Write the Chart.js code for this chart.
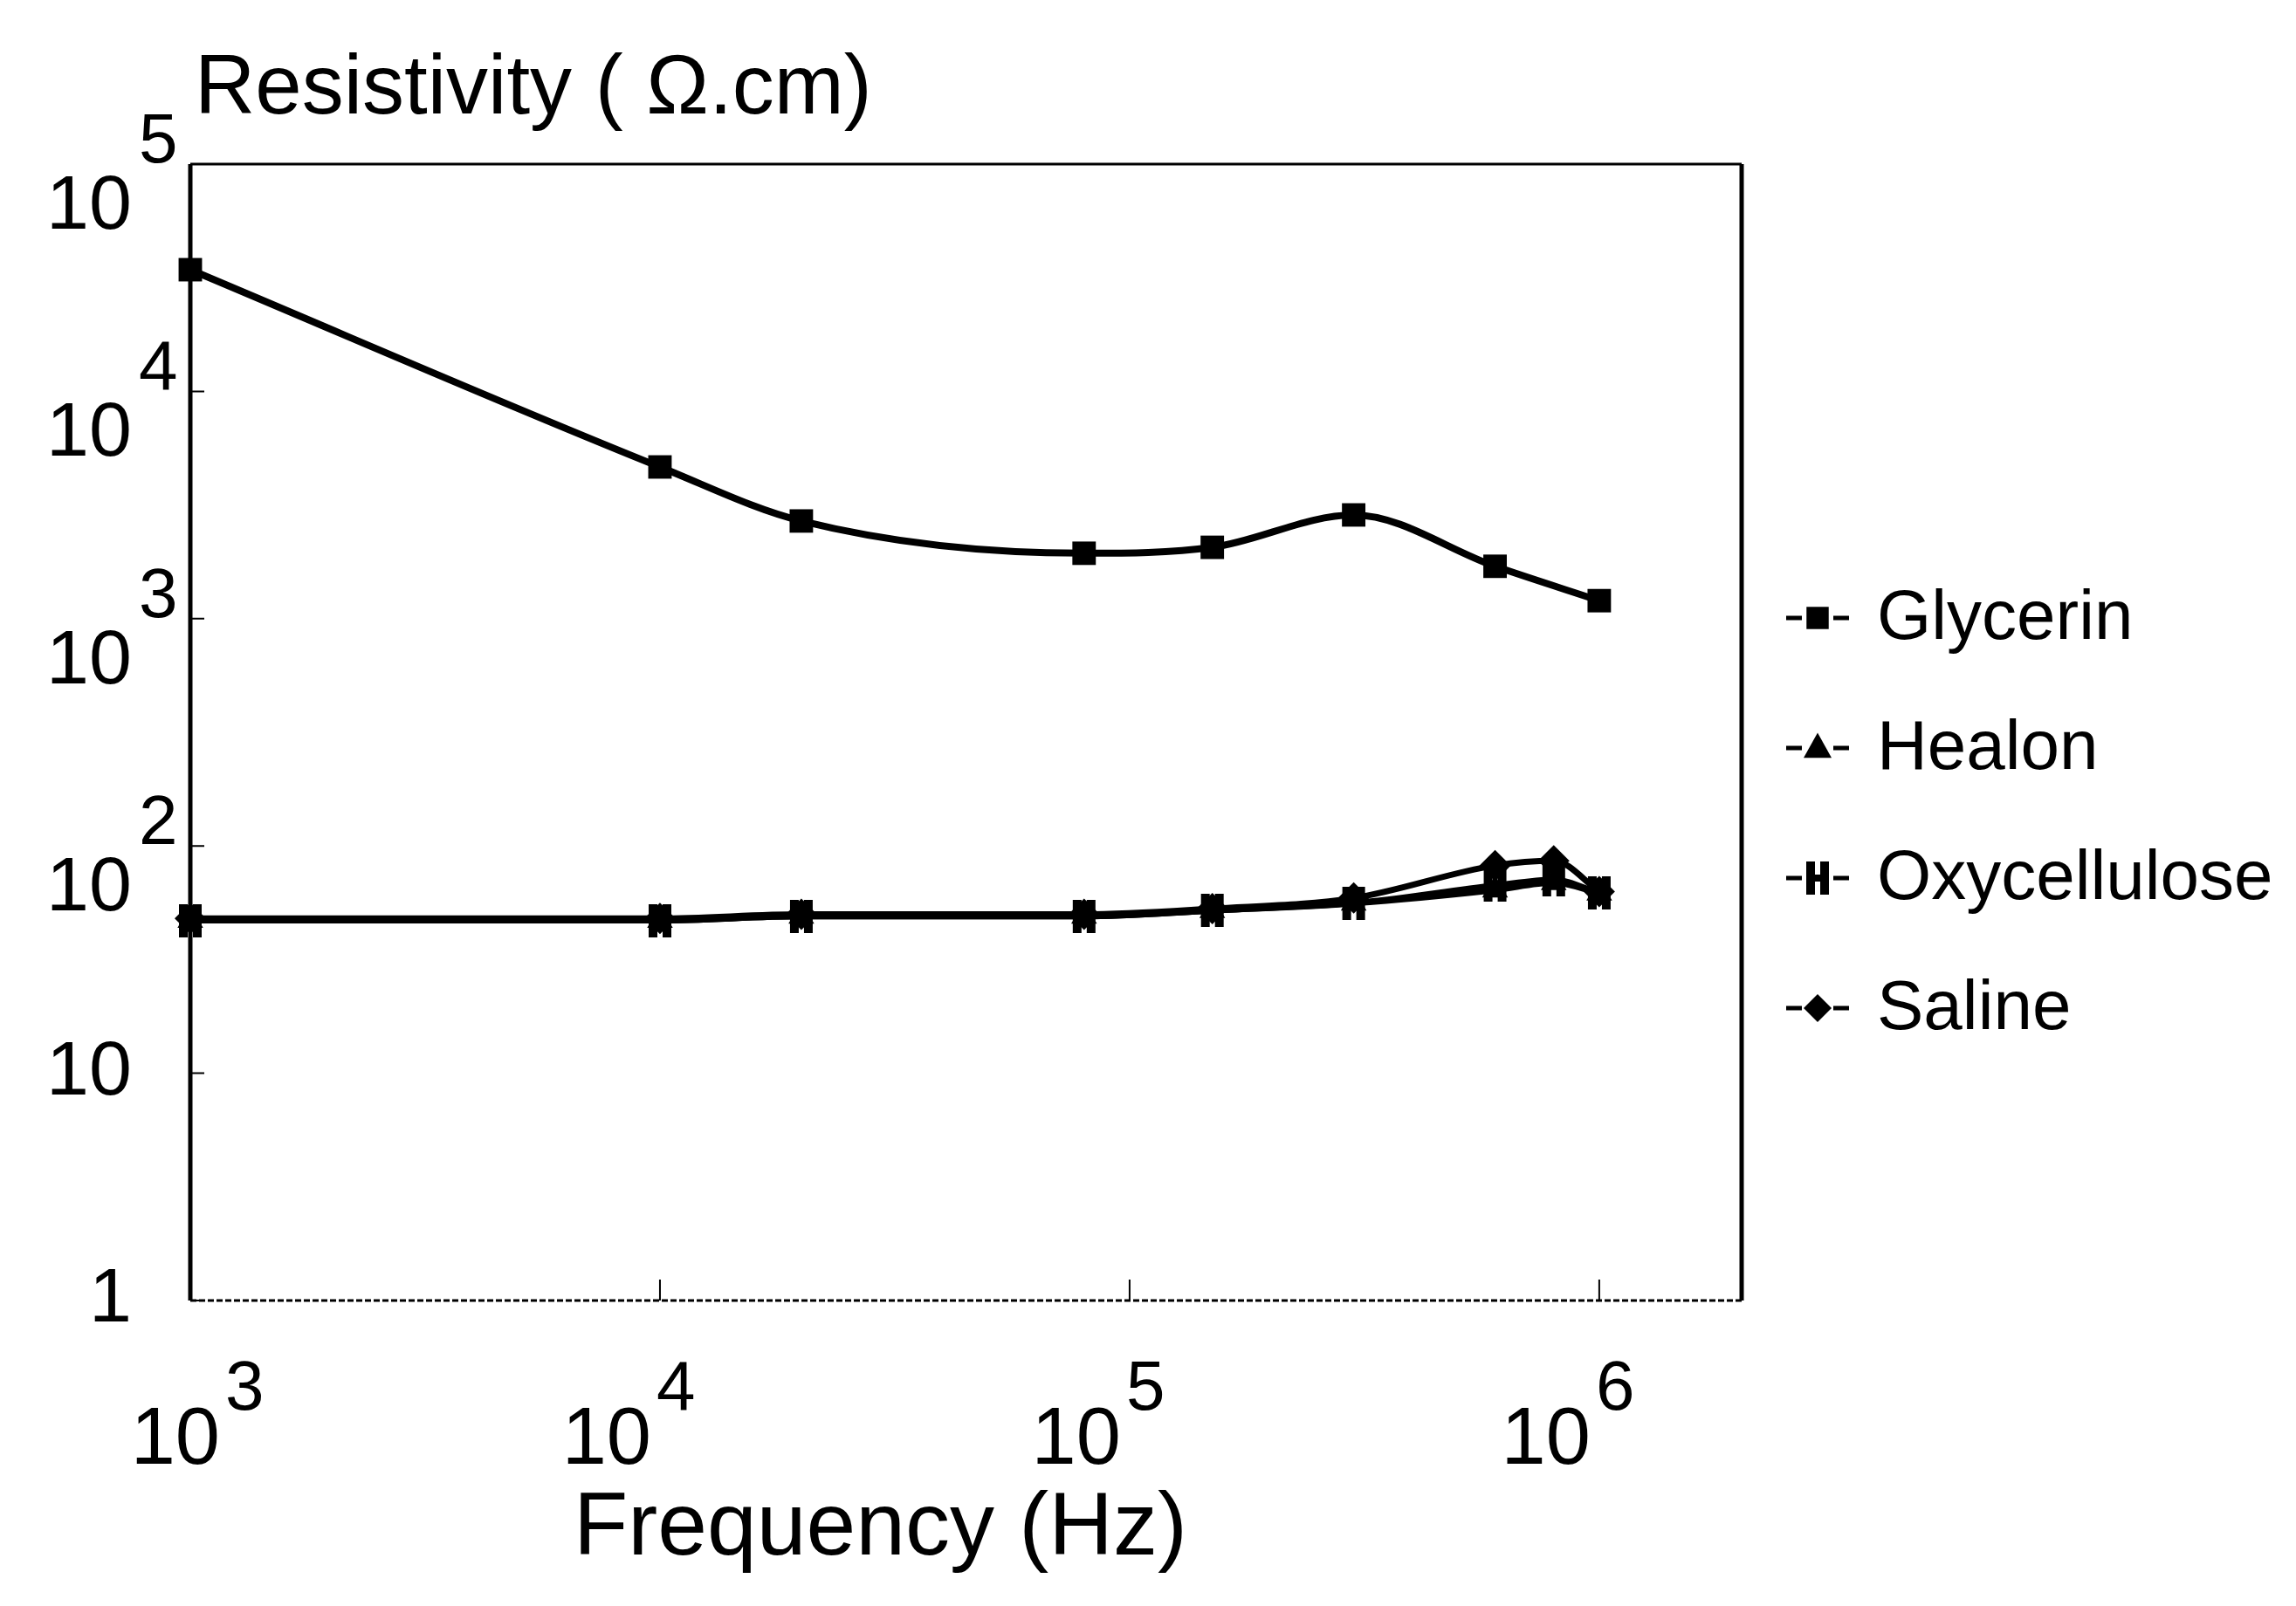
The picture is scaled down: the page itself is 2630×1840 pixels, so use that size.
<!DOCTYPE html>
<html lang="en">
<head>
  <meta charset="utf-8"/>
  <title>Resistivity vs Frequency</title>
  <script src="https://cdn.jsdelivr.net/npm/chart.js"></script>
  <style>
    html, body { margin: 0; padding: 0; background: #fff; }
    #wrap { width: 2630px; height: 1840px; }
  </style>
</head>
<body>
  <div id="wrap">
    <canvas id="resChart" width="2630" height="1840"></canvas>
  </div>
  <script>
    // data (Hz, ohm.cm)
    const freqs = [1e3, 1e4, 2e4, 8e4, 1.5e5, 3e5, 6e5, 8e5, 1e6];
    const glycerin = [34300, 4650, 2690, 1940, 2060, 2860, 1700, null, 1200];
    const healon = [47, 47, 49, 49, 52, 56, 64, 69, 62];
    const oxycellulose = [47, 47, 49, 49, 52, 56, 67, 71, 62];
    const saline = [48, 48, 50, 50, 53, 59, 82, 86, 63];

    const seriesNames = ['Glycerin', 'Healon', 'Oxycellulose', 'Saline'];

    const xTicks = [1e3, 1e4, 1e5, 1e6];
    const xTickExp = ['3', '4', '5', '6'];
    const yTicks = [1, 10, 100, 1000, 10000, 100000];
    const yTickBase = ['1', '10', '10', '10', '10', '10'];
    const yTickExp = ['', '', '2', '3', '4', '5'];

    const FONT = '"Liberation Sans", Arial, sans-serif';

    // "H" shaped marker for oxycellulose
    function makeHMarker() {
      const c = document.createElement('canvas');
      c.width = 28; c.height = 38;
      const g = c.getContext('2d');
      g.fillStyle = '#000';
      g.fillRect(1, 0, 10, 38);
      g.fillRect(17, 0, 10, 38);
      g.fillRect(1, 15, 26, 8);
      return c;
    }
    const hMarker = makeHMarker();

    function toPoints(vals) {
      return freqs.map((f, i) => ({ x: f, y: vals[i] })).filter(p => p.y !== null);
    }

    function drawMarker(ctx, style, x, y, r) {
      ctx.beginPath();
      if (style === 'rect') {
        const s = r * Math.SQRT1_2;
        ctx.rect(x - s, y - s, 2 * s, 2 * s);
        ctx.fill();
      } else if (style === 'triangle') {
        ctx.moveTo(x, y - r * 1.1);
        ctx.lineTo(x + r, y + r * 0.7);
        ctx.lineTo(x - r, y + r * 0.7);
        ctx.closePath();
        ctx.fill();
      } else if (style === 'rectRot') {
        ctx.moveTo(x, y - r);
        ctx.lineTo(x + r, y);
        ctx.lineTo(x, y + r);
        ctx.lineTo(x - r, y);
        ctx.closePath();
        ctx.fill();
      } else {
        ctx.drawImage(style, x - style.width / 2, y - style.height / 2);
      }
    }

    const figurePlugin = {
      id: 'figure',
      afterDraw(chart) {
        const { ctx, chartArea: a, scales } = chart;
        const xs = scales.x, ys = scales.y;
        ctx.save();
        ctx.fillStyle = '#000';
        ctx.strokeStyle = '#000';

        // frame: heavy left/right, thin top, dotted bottom
        ctx.lineWidth = 5;
        ctx.beginPath();
        ctx.moveTo(a.left, a.top); ctx.lineTo(a.left, a.bottom);
        ctx.moveTo(a.right, a.top); ctx.lineTo(a.right, a.bottom);
        ctx.stroke();
        ctx.lineWidth = 3;
        ctx.beginPath();
        ctx.moveTo(a.left, a.top); ctx.lineTo(a.right, a.top);
        ctx.stroke();
        ctx.setLineDash([7, 3]);
        ctx.beginPath();
        ctx.moveTo(a.left, a.bottom); ctx.lineTo(a.right, a.bottom);
        ctx.stroke();
        ctx.setLineDash([]);

        // inner tick marks
        ctx.lineWidth = 2;
        ctx.beginPath();
        yTicks.forEach(v => {
          const py = ys.getPixelForValue(v);
          ctx.moveTo(a.left, py); ctx.lineTo(a.left + 16, py);
        });
        xTicks.slice(1).forEach(v => {
          const px = xs.getPixelForValue(v);
          ctx.moveTo(px, a.bottom); ctx.lineTo(px, a.bottom - 24);
        });
        ctx.stroke();

        // y tick labels
        yTicks.forEach((v, i) => {
          const py = ys.getPixelForValue(v);
          ctx.font = '88px ' + FONT;
          ctx.textAlign = 'right';
          if (yTickExp[i] === '') {
            ctx.textBaseline = 'middle';
            ctx.fillText(yTickBase[i], 151, py);
          } else {
            ctx.textBaseline = 'alphabetic';
            ctx.fillText(yTickBase[i], 151, py + 74);
            ctx.font = '80px ' + FONT;
            ctx.textAlign = 'left';
            ctx.fillText(yTickExp[i], 159, py - 2);
          }
        });

        // x tick labels
        xTicks.forEach((v, i) => {
          const px = xs.getPixelForValue(v);
          const right = i === 0 ? px + 34 : px - 10;
          ctx.textBaseline = 'alphabetic';
          ctx.font = '92px ' + FONT;
          ctx.textAlign = 'right';
          ctx.fillText('10', right, 1677);
          ctx.font = '80px ' + FONT;
          ctx.textAlign = 'left';
          ctx.fillText(xTickExp[i], right + 6, 1615);
        });

        // axis titles
        ctx.textAlign = 'left';
        ctx.font = '96px ' + FONT;
        ctx.fillText('Resistivity ( \u03A9.cm)', 223, 130);
        ctx.font = '102px ' + FONT;
        ctx.fillText('Frequency (Hz)', 657, 1781);

        // legend
        chart.data.datasets.forEach((ds, i) => {
          const cy = 708 + i * 149;
          ctx.lineWidth = 5;
          ctx.beginPath();
          ctx.moveTo(2046, cy); ctx.lineTo(2064, cy);
          ctx.moveTo(2100, cy); ctx.lineTo(2118, cy);
          ctx.stroke();
          drawMarker(ctx, ds.pointStyle, 2082, cy, ds.pointStyle === 'rect' ? 18 : 16);
          ctx.font = '80px ' + FONT;
          ctx.textAlign = 'left';
          ctx.textBaseline = 'middle';
          ctx.fillText(ds.label, 2150, cy + 2);
        });

        ctx.restore();
      }
    };

    function series(label, vals, style, radius, width) {
      return {
        label: label,
        data: toPoints(vals),
        borderColor: '#000',
        backgroundColor: '#000',
        borderWidth: width,
        pointStyle: style,
        pointRadius: radius,
        pointBorderWidth: 0,
        cubicInterpolationMode: 'monotone',
        clip: false
      };
    }

    new Chart(document.getElementById('resChart'), {
      type: 'line',
      data: {
        datasets: [
          series(seriesNames[0], glycerin, 'rect', 19, 8),
          series(seriesNames[1], healon, 'triangle', 17, 7),
          series(seriesNames[2], oxycellulose, hMarker, 17, 7),
          series(seriesNames[3], saline, 'rectRot', 18, 7)
        ]
      },
      options: {
        responsive: false,
        animation: false,
        devicePixelRatio: 1,
        layout: { padding: { left: 218, right: 635, top: 188, bottom: 350 } },
        plugins: { legend: { display: false }, tooltip: { enabled: false } },
        scales: {
          x: { type: 'logarithmic', min: 1000, max: 2.01e6, display: false },
          y: { type: 'logarithmic', min: 1, max: 100000, display: false }
        }
      },
      plugins: [figurePlugin]
    });
  </script>
</body>
</html>
